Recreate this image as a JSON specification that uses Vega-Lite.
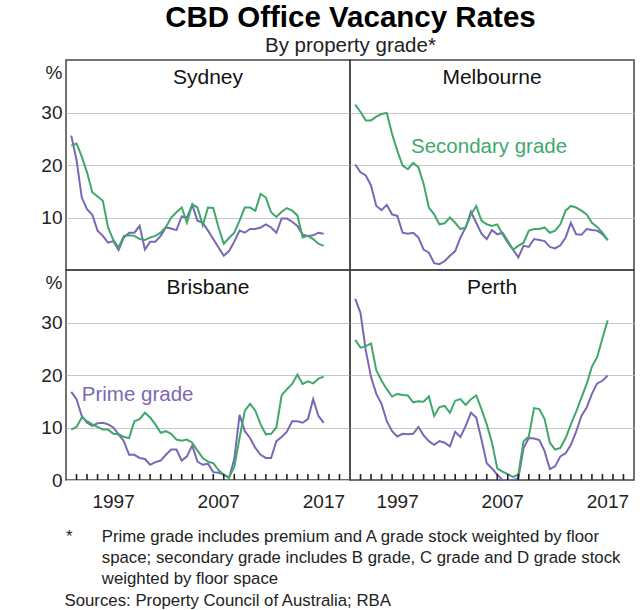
{
"$schema":"https://vega.github.io/schema/vega-lite/v6.json",
"padding":{"left":40,"top":3,"right":0,"bottom":0},
"title":{"text":"CBD Office Vacancy Rates","subtitle":"By property grade*","anchor":"middle","frame":"bounds","dx":13,"font":"Liberation Sans","fontSize":29.5,"fontWeight":"bold","color":"#000","subtitleFont":"Liberation Sans","subtitleFontSize":20.5,"subtitleColor":"#222","subtitlePadding":2,"offset":2},
"datasets":{"d":[
{"city":"Sydney","t":1993.5,"prime":25.6,"secondary":23.7},{"city":"Sydney","t":1994,"prime":21,"secondary":24.1},{"city":"Sydney","t":1994.5,"prime":13.8,"secondary":21.6},{"city":"Sydney","t":1995,"prime":11.6,"secondary":18.6},{"city":"Sydney","t":1995.5,"prime":10.5,"secondary":14.8},{"city":"Sydney","t":1996,"prime":7.5,"secondary":14.0},{"city":"Sydney","t":1996.5,"prime":6.5,"secondary":13.2},{"city":"Sydney","t":1997,"prime":5.2,"secondary":8.1},{"city":"Sydney","t":1997.5,"prime":5.5,"secondary":5.7},{"city":"Sydney","t":1998,"prime":3.8,"secondary":4.3},{"city":"Sydney","t":1998.5,"prime":6.2,"secondary":6.5},{"city":"Sydney","t":1999,"prime":7.1,"secondary":6.6},{"city":"Sydney","t":1999.5,"prime":7.1,"secondary":6.5},{"city":"Sydney","t":2000,"prime":8.4,"secondary":5.9},{"city":"Sydney","t":2000.5,"prime":3.9,"secondary":5.7},{"city":"Sydney","t":2001,"prime":5.4,"secondary":6.2},{"city":"Sydney","t":2001.5,"prime":5.4,"secondary":6.5},{"city":"Sydney","t":2002,"prime":6.5,"secondary":7.1},{"city":"Sydney","t":2002.5,"prime":8.1,"secondary":8.2},{"city":"Sydney","t":2003,"prime":7.9,"secondary":10},{"city":"Sydney","t":2003.5,"prime":7.6,"secondary":11},{"city":"Sydney","t":2004,"prime":10.2,"secondary":11.9},{"city":"Sydney","t":2004.5,"prime":10,"secondary":9.0},{"city":"Sydney","t":2005,"prime":12.4,"secondary":12.5},{"city":"Sydney","t":2005.5,"prime":9.4,"secondary":11.9},{"city":"Sydney","t":2006,"prime":9,"secondary":8.5},{"city":"Sydney","t":2006.5,"prime":7.5,"secondary":11.9},{"city":"Sydney","t":2007,"prime":5.9,"secondary":11.8},{"city":"Sydney","t":2007.5,"prime":4.3,"secondary":8.1},{"city":"Sydney","t":2008,"prime":2.7,"secondary":5.0},{"city":"Sydney","t":2008.5,"prime":3.6,"secondary":6.1},{"city":"Sydney","t":2009,"prime":5.4,"secondary":7.1},{"city":"Sydney","t":2009.5,"prime":7.5,"secondary":9.4},{"city":"Sydney","t":2010,"prime":7.1,"secondary":11.9},{"city":"Sydney","t":2010.5,"prime":7.8,"secondary":11.9},{"city":"Sydney","t":2011,"prime":7.8,"secondary":11.3},{"city":"Sydney","t":2011.5,"prime":8.1,"secondary":14.5},{"city":"Sydney","t":2012,"prime":8.7,"secondary":13.8},{"city":"Sydney","t":2012.5,"prime":8.1,"secondary":11.0},{"city":"Sydney","t":2013,"prime":7.1,"secondary":10.1},{"city":"Sydney","t":2013.5,"prime":9.8,"secondary":11.1},{"city":"Sydney","t":2014,"prime":9.8,"secondary":11.8},{"city":"Sydney","t":2014.5,"prime":9.2,"secondary":11.3},{"city":"Sydney","t":2015,"prime":8.4,"secondary":10.4},{"city":"Sydney","t":2015.5,"prime":6.7,"secondary":6.2},{"city":"Sydney","t":2016,"prime":6.5,"secondary":6.5},{"city":"Sydney","t":2016.5,"prime":6.6,"secondary":5.9},{"city":"Sydney","t":2017,"prime":7.1,"secondary":5.0},{"city":"Sydney","t":2017.5,"prime":6.9,"secondary":4.6},
{"city":"Melbourne","t":1993.5,"prime":20.1,"secondary":31.5},{"city":"Melbourne","t":1994,"prime":18.6,"secondary":30.1},{"city":"Melbourne","t":1994.5,"prime":18.0,"secondary":28.5},{"city":"Melbourne","t":1995,"prime":16.1,"secondary":28.5},{"city":"Melbourne","t":1995.5,"prime":12.2,"secondary":29.2},{"city":"Melbourne","t":1996,"prime":11.4,"secondary":29.7},{"city":"Melbourne","t":1996.5,"prime":12.4,"secondary":29.9},{"city":"Melbourne","t":1997,"prime":10.6,"secondary":25.9},{"city":"Melbourne","t":1997.5,"prime":10.3,"secondary":22.7},{"city":"Melbourne","t":1998,"prime":7.1,"secondary":19.9},{"city":"Melbourne","t":1998.5,"prime":6.9,"secondary":19.2},{"city":"Melbourne","t":1999,"prime":7.1,"secondary":20.4},{"city":"Melbourne","t":1999.5,"prime":6.2,"secondary":19.6},{"city":"Melbourne","t":2000,"prime":3.9,"secondary":16.4},{"city":"Melbourne","t":2000.5,"prime":3.3,"secondary":11.9},{"city":"Melbourne","t":2001,"prime":1.3,"secondary":10.6},{"city":"Melbourne","t":2001.5,"prime":1.1,"secondary":8.7},{"city":"Melbourne","t":2002,"prime":1.7,"secondary":8.9},{"city":"Melbourne","t":2002.5,"prime":2.7,"secondary":10},{"city":"Melbourne","t":2003,"prime":3.6,"secondary":9.0},{"city":"Melbourne","t":2003.5,"prime":6.2,"secondary":7.8},{"city":"Melbourne","t":2004,"prime":8.1,"secondary":8.1},{"city":"Melbourne","t":2004.5,"prime":11.1,"secondary":10.6},{"city":"Melbourne","t":2005,"prime":9.0,"secondary":12.2},{"city":"Melbourne","t":2005.5,"prime":6.9,"secondary":9.4},{"city":"Melbourne","t":2006,"prime":5.9,"secondary":8.7},{"city":"Melbourne","t":2006.5,"prime":7.6,"secondary":8.4},{"city":"Melbourne","t":2007,"prime":6.8,"secondary":8.7},{"city":"Melbourne","t":2007.5,"prime":7.1,"secondary":6.8},{"city":"Melbourne","t":2008,"prime":5.5,"secondary":5.2},{"city":"Melbourne","t":2008.5,"prime":3.9,"secondary":3.9},{"city":"Melbourne","t":2009,"prime":2.4,"secondary":4.6},{"city":"Melbourne","t":2009.5,"prime":4.6,"secondary":5.2},{"city":"Melbourne","t":2010,"prime":4.4,"secondary":7.5},{"city":"Melbourne","t":2010.5,"prime":5.9,"secondary":7.8},{"city":"Melbourne","t":2011,"prime":5.7,"secondary":7.8},{"city":"Melbourne","t":2011.5,"prime":5.5,"secondary":8.1},{"city":"Melbourne","t":2012,"prime":4.4,"secondary":7.1},{"city":"Melbourne","t":2012.5,"prime":4.1,"secondary":7.5},{"city":"Melbourne","t":2013,"prime":4.7,"secondary":8.7},{"city":"Melbourne","t":2013.5,"prime":6.2,"secondary":11.3},{"city":"Melbourne","t":2014,"prime":9.0,"secondary":12.2},{"city":"Melbourne","t":2014.5,"prime":6.8,"secondary":11.9},{"city":"Melbourne","t":2015,"prime":6.7,"secondary":11.3},{"city":"Melbourne","t":2015.5,"prime":7.8,"secondary":10.6},{"city":"Melbourne","t":2016,"prime":7.6,"secondary":9.0},{"city":"Melbourne","t":2016.5,"prime":7.5,"secondary":8.2},{"city":"Melbourne","t":2017,"prime":6.8,"secondary":7.1},{"city":"Melbourne","t":2017.5,"prime":5.7,"secondary":5.7},
{"city":"Brisbane","t":1993.5,"prime":16.8,"secondary":9.6},{"city":"Brisbane","t":1994,"prime":15.4,"secondary":10.1},{"city":"Brisbane","t":1994.5,"prime":12.2,"secondary":11.9},{"city":"Brisbane","t":1995,"prime":10.9,"secondary":11.2},{"city":"Brisbane","t":1995.5,"prime":10.3,"secondary":10.6},{"city":"Brisbane","t":1996,"prime":10.8,"secondary":10.1},{"city":"Brisbane","t":1996.5,"prime":10.9,"secondary":9.6},{"city":"Brisbane","t":1997,"prime":10.6,"secondary":9.6},{"city":"Brisbane","t":1997.5,"prime":10.0,"secondary":8.8},{"city":"Brisbane","t":1998,"prime":8.7,"secondary":8.7},{"city":"Brisbane","t":1998.5,"prime":7.4,"secondary":8.2},{"city":"Brisbane","t":1999,"prime":4.8,"secondary":8.0},{"city":"Brisbane","t":1999.5,"prime":4.8,"secondary":11.2},{"city":"Brisbane","t":2000,"prime":4.2,"secondary":11.6},{"city":"Brisbane","t":2000.5,"prime":4.0,"secondary":12.8},{"city":"Brisbane","t":2001,"prime":2.9,"secondary":11.9},{"city":"Brisbane","t":2001.5,"prime":3.4,"secondary":10.6},{"city":"Brisbane","t":2002,"prime":3.7,"secondary":9.0},{"city":"Brisbane","t":2002.5,"prime":4.8,"secondary":9.3},{"city":"Brisbane","t":2003,"prime":5.8,"secondary":8.8},{"city":"Brisbane","t":2003.5,"prime":5.8,"secondary":7.7},{"city":"Brisbane","t":2004,"prime":3.7,"secondary":7.5},{"city":"Brisbane","t":2004.5,"prime":4.5,"secondary":7.7},{"city":"Brisbane","t":2005,"prime":6.6,"secondary":7.1},{"city":"Brisbane","t":2005.5,"prime":3.5,"secondary":5.6},{"city":"Brisbane","t":2006,"prime":2.9,"secondary":4.2},{"city":"Brisbane","t":2006.5,"prime":3.1,"secondary":3.5},{"city":"Brisbane","t":2007,"prime":1.5,"secondary":3.2},{"city":"Brisbane","t":2007.5,"prime":1.4,"secondary":1.9},{"city":"Brisbane","t":2008,"prime":1.0,"secondary":1.0},{"city":"Brisbane","t":2008.5,"prime":0.4,"secondary":0.5},{"city":"Brisbane","t":2009,"prime":4.0,"secondary":2.5},{"city":"Brisbane","t":2009.5,"prime":12.4,"secondary":8.0},{"city":"Brisbane","t":2010,"prime":9.3,"secondary":13.2},{"city":"Brisbane","t":2010.5,"prime":8.0,"secondary":14.5},{"city":"Brisbane","t":2011,"prime":6.1,"secondary":13.2},{"city":"Brisbane","t":2011.5,"prime":4.8,"secondary":10.6},{"city":"Brisbane","t":2012,"prime":4.2,"secondary":8.7},{"city":"Brisbane","t":2012.5,"prime":4.2,"secondary":8.8},{"city":"Brisbane","t":2013,"prime":7.4,"secondary":10.0},{"city":"Brisbane","t":2013.5,"prime":8.2,"secondary":16.1},{"city":"Brisbane","t":2014,"prime":9.2,"secondary":17.3},{"city":"Brisbane","t":2014.5,"prime":11.2,"secondary":18.3},{"city":"Brisbane","t":2015,"prime":11.2,"secondary":20.1},{"city":"Brisbane","t":2015.5,"prime":10.9,"secondary":18.3},{"city":"Brisbane","t":2016,"prime":11.6,"secondary":18.8},{"city":"Brisbane","t":2016.5,"prime":15.4,"secondary":18.4},{"city":"Brisbane","t":2017,"prime":12.2,"secondary":19.3},{"city":"Brisbane","t":2017.5,"prime":10.9,"secondary":19.7},
{"city":"Perth","t":1993.5,"prime":34.5,"secondary":26.7},{"city":"Perth","t":1994,"prime":31.8,"secondary":25.2},{"city":"Perth","t":1994.5,"prime":24.7,"secondary":25.5},{"city":"Perth","t":1995,"prime":19.6,"secondary":26.0},{"city":"Perth","t":1995.5,"prime":16.4,"secondary":20.9},{"city":"Perth","t":1996,"prime":14.5,"secondary":18.9},{"city":"Perth","t":1996.5,"prime":11.2,"secondary":17.3},{"city":"Perth","t":1997,"prime":9.3,"secondary":15.9},{"city":"Perth","t":1997.5,"prime":8.3,"secondary":16.4},{"city":"Perth","t":1998,"prime":8.8,"secondary":16.2},{"city":"Perth","t":1998.5,"prime":8.7,"secondary":16.1},{"city":"Perth","t":1999,"prime":8.8,"secondary":14.8},{"city":"Perth","t":1999.5,"prime":10.1,"secondary":15.0},{"city":"Perth","t":2000,"prime":8.5,"secondary":14.9},{"city":"Perth","t":2000.5,"prime":7.4,"secondary":15.9},{"city":"Perth","t":2001,"prime":6.7,"secondary":12.2},{"city":"Perth","t":2001.5,"prime":7.4,"secondary":13.9},{"city":"Perth","t":2002,"prime":7.1,"secondary":14.1},{"city":"Perth","t":2002.5,"prime":6.4,"secondary":12.8},{"city":"Perth","t":2003,"prime":9.2,"secondary":15.1},{"city":"Perth","t":2003.5,"prime":8.2,"secondary":15.4},{"city":"Perth","t":2004,"prime":10.3,"secondary":14.3},{"city":"Perth","t":2004.5,"prime":12.8,"secondary":15.4},{"city":"Perth","t":2005,"prime":11.9,"secondary":16.1},{"city":"Perth","t":2005.5,"prime":7.7,"secondary":13.5},{"city":"Perth","t":2006,"prime":3.2,"secondary":10.6},{"city":"Perth","t":2006.5,"prime":2.2,"secondary":7.1},{"city":"Perth","t":2007,"prime":1.0,"secondary":2.2},{"city":"Perth","t":2007.5,"prime":0,"secondary":1.6},{"city":"Perth","t":2008,"prime":0,"secondary":1.1},{"city":"Perth","t":2008.5,"prime":0,"secondary":0.6},{"city":"Perth","t":2009,"prime":0.3,"secondary":1.0},{"city":"Perth","t":2009.5,"prime":6.1,"secondary":7.4},{"city":"Perth","t":2010,"prime":8.0,"secondary":8.3},{"city":"Perth","t":2010.5,"prime":7.9,"secondary":13.7},{"city":"Perth","t":2011,"prime":7.6,"secondary":13.5},{"city":"Perth","t":2011.5,"prime":5.5,"secondary":11.6},{"city":"Perth","t":2012,"prime":2.1,"secondary":7.1},{"city":"Perth","t":2012.5,"prime":2.6,"secondary":5.8},{"city":"Perth","t":2013,"prime":4.5,"secondary":6.1},{"city":"Perth","t":2013.5,"prime":5.1,"secondary":8.0},{"city":"Perth","t":2014,"prime":6.7,"secondary":10.6},{"city":"Perth","t":2014.5,"prime":9.2,"secondary":13.0},{"city":"Perth","t":2015,"prime":12.2,"secondary":15.7},{"city":"Perth","t":2015.5,"prime":13.8,"secondary":18.3},{"city":"Perth","t":2016,"prime":16.4,"secondary":21.6},{"city":"Perth","t":2016.5,"prime":18.4,"secondary":23.4},{"city":"Perth","t":2017,"prime":18.9,"secondary":27.0},{"city":"Perth","t":2017.5,"prime":19.9,"secondary":30.4}
],
"years":[{"year":1994},{"year":1995},{"year":1996},{"year":1997},{"year":1998},{"year":1999},{"year":2000},{"year":2001},{"year":2002},{"year":2003},{"year":2004},{"year":2005},{"year":2006},{"year":2007},{"year":2008},{"year":2009},{"year":2010},{"year":2011},{"year":2012},{"year":2013},{"year":2014},{"year":2015},{"year":2016},{"year":2017},{"year":2018},{"year":2019}]},
"vconcat":[{
"title":{"text":["\u200b\u200a*\u00a0\u00a0\u00a0\u00a0\u00a0\u00a0\u200aPrime grade includes premium and A grade stock weighted by floor","\u200b\u00a0\u00a0\u00a0\u00a0\u00a0\u00a0\u00a0\u00a0space; secondary grade includes B grade, C grade and D grade stock","\u200b\u00a0\u00a0\u00a0\u00a0\u00a0\u00a0\u00a0\u00a0weighted by floor space"],"subtitle":"Sources: Property Council of Australia; RBA","orient":"bottom","anchor":"start","frame":"group","dx":-1.5,"font":"Liberation Sans","fontSize":16.8,"fontWeight":"normal","color":"#222","lineHeight":21,"subtitleFont":"Liberation Sans","subtitleFontSize":16.8,"subtitleColor":"#222","subtitlePadding":5,"offset":17},
"columns":2,"spacing":0,"bounds":"flush",
"concat":[
{"width":284,"height":210,"layer":[
 {"data":{"name":"d"},"transform":[{"filter":"datum.city==='Sydney'"},{"fold":["prime","secondary"],"as":["grade","v"]}],
  "mark":{"type":"line","strokeWidth":2},
  "encoding":{"x":{"field":"t","type":"quantitative","scale":{"domain":[1993,2020],"nice":false,"zero":false},"axis":null},
   "y":{"field":"v","type":"quantitative","scale":{"domain":[0,40],"nice":false},"axis":{"values":[10,20,30],"title":"%","titleAngle":0,"titleAlign":"right","titleBaseline":"top","titleX":-4,"titleY":3,"grid":true,"ticks":false,"domain":false,"labelPadding":4}},
   "color":{"field":"grade","type":"nominal","scale":{"domain":["prime","secondary"],"range":["#7b68b5","#3fa86a"]},"legend":null}}},
 {"data":{"values":[{"label":"Sydney"}]},"mark":{"type":"text","fontSize":21,"color":"#111","align":"center","baseline":"alphabetic"},
  "encoding":{"x":{"datum":2006.5,"type":"quantitative"},"y":{"datum":35.4,"type":"quantitative"},"text":{"field":"label"}}}
]},
{"width":284,"height":210,"layer":[
 {"data":{"name":"d"},"transform":[{"filter":"datum.city==='Melbourne'"},{"fold":["prime","secondary"],"as":["grade","v"]}],
  "mark":{"type":"line","strokeWidth":2},
  "encoding":{"x":{"field":"t","type":"quantitative","scale":{"domain":[1993,2020],"nice":false,"zero":false},"axis":null},
   "y":{"field":"v","type":"quantitative","scale":{"domain":[0,40],"nice":false},"axis":{"values":[10,20,30],"title":null,"labels":false,"grid":true,"ticks":false,"domain":false}},
   "color":{"field":"grade","type":"nominal","scale":{"domain":["prime","secondary"],"range":["#7b68b5","#3fa86a"]},"legend":null}}},
 {"data":{"values":[{"label":"Melbourne"}]},"mark":{"type":"text","fontSize":21,"color":"#111","align":"center","baseline":"alphabetic"},
  "encoding":{"x":{"datum":2006.5,"type":"quantitative"},"y":{"datum":35.4,"type":"quantitative"},"text":{"field":"label"}}},
 {"data":{"values":[{"label":"Secondary grade"}]},"mark":{"type":"text","fontSize":20.5,"color":"#3fa86a","align":"left","baseline":"middle"},
  "encoding":{"x":{"datum":1998.8,"type":"quantitative"},"y":{"datum":23.4,"type":"quantitative"},"text":{"field":"label"}}}
]},
{"width":284,"height":210,"resolve":{"axis":{"x":"independent"}},"layer":[
 {"data":{"name":"d"},"transform":[{"filter":"datum.city==='Brisbane'"},{"fold":["prime","secondary"],"as":["grade","v"]}],
  "mark":{"type":"line","strokeWidth":2},
  "encoding":{"x":{"field":"t","type":"quantitative","scale":{"domain":[1993,2020],"nice":false,"zero":false},"axis":{"orient":"bottom","values":[1994,1995,1996,1997,1998,1999,2000,2001,2002,2003,2004,2005,2006,2007,2008,2009,2010,2011,2012,2013,2014,2015,2016,2017,2018,2019],"format":"d","labelExpr":"(datum.value==1997||datum.value==2007||datum.value==2017)?datum.label:''","ticks":false,"domain":false,"grid":false,"labelOffset":5,"labelPadding":12,"labelFlush":false,"labelOverlap":false,"title":null}},
   "y":{"field":"v","type":"quantitative","scale":{"domain":[0,40],"nice":false},"axis":{"values":[0,10,20,30],"title":"%","titleAngle":0,"titleAlign":"right","titleBaseline":"top","titleX":-4,"titleY":3,"grid":true,"ticks":false,"domain":false,"labelPadding":4}},
   "color":{"field":"grade","type":"nominal","scale":{"domain":["prime","secondary"],"range":["#7b68b5","#3fa86a"]},"legend":null}}},
 {"data":{"name":"years"},"mark":{"type":"rule","stroke":"#222","strokeWidth":1.6,"opacity":1},
  "encoding":{"x":{"field":"year","type":"quantitative","axis":null},"y":{"datum":0,"type":"quantitative"},"y2":{"datum":1.15}}},
 {"data":{"values":[{"label":"Brisbane"}]},"mark":{"type":"text","fontSize":21,"color":"#111","align":"center","baseline":"alphabetic"},
  "encoding":{"x":{"datum":2006.5,"type":"quantitative","axis":null},"y":{"datum":35.4,"type":"quantitative"},"text":{"field":"label"}}},
 {"data":{"values":[{"label":"Prime grade"}]},"mark":{"type":"text","fontSize":20.5,"color":"#7b68b5","align":"left","baseline":"middle"},
  "encoding":{"x":{"datum":1994.5,"type":"quantitative","axis":null},"y":{"datum":16.2,"type":"quantitative"},"text":{"field":"label"}}}
]},
{"width":284,"height":210,"resolve":{"axis":{"x":"independent"}},"layer":[
 {"data":{"name":"d"},"transform":[{"filter":"datum.city==='Perth'"},{"fold":["prime","secondary"],"as":["grade","v"]}],
  "mark":{"type":"line","strokeWidth":2},
  "encoding":{"x":{"field":"t","type":"quantitative","scale":{"domain":[1993,2020],"nice":false,"zero":false},"axis":{"orient":"bottom","values":[1994,1995,1996,1997,1998,1999,2000,2001,2002,2003,2004,2005,2006,2007,2008,2009,2010,2011,2012,2013,2014,2015,2016,2017,2018,2019],"format":"d","labelExpr":"(datum.value==1997||datum.value==2007||datum.value==2017)?datum.label:''","ticks":false,"domain":false,"grid":false,"labelOffset":5,"labelPadding":12,"labelFlush":false,"labelOverlap":false,"title":null}},
   "y":{"field":"v","type":"quantitative","scale":{"domain":[0,40],"nice":false},"axis":{"values":[10,20,30],"title":null,"labels":false,"grid":true,"ticks":false,"domain":false}},
   "color":{"field":"grade","type":"nominal","scale":{"domain":["prime","secondary"],"range":["#7b68b5","#3fa86a"]},"legend":null}}},
 {"data":{"name":"years"},"mark":{"type":"rule","stroke":"#222","strokeWidth":1.6,"opacity":1},
  "encoding":{"x":{"field":"year","type":"quantitative","axis":null},"y":{"datum":0,"type":"quantitative"},"y2":{"datum":1.15}}},
 {"data":{"values":[{"label":"Perth"}]},"mark":{"type":"text","fontSize":21,"color":"#111","align":"center","baseline":"alphabetic"},
  "encoding":{"x":{"datum":2006.5,"type":"quantitative","axis":null},"y":{"datum":35.4,"type":"quantitative"},"text":{"field":"label"}}}
]}
]}],
"config":{
 "font":"Liberation Sans",
 "view":{"stroke":"#444","strokeWidth":1.5},
 "axis":{"gridColor":"#c8c8c8","gridWidth":1.2,"labelFont":"Liberation Sans","labelFontSize":19,"labelColor":"#222","titleFont":"Liberation Sans","titleFontSize":19,"titleColor":"#222","titleFontWeight":"normal"},
 "text":{"font":"Liberation Sans"}
}
}
